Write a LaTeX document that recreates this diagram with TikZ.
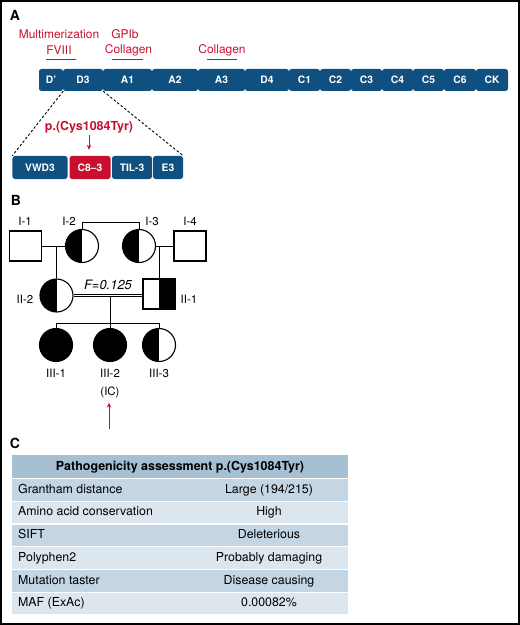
\documentclass[tikz,border=0pt]{standalone}
\usepackage{fontspec}
\setmainfont{TeX Gyre Heros}
\usetikzlibrary{calc,positioning,arrows.meta}
\definecolor{vwfblue}{RGB}{16,80,128}
\definecolor{vwfred}{RGB}{200,16,46}
\definecolor{hdrblue}{RGB}{165,191,211}
\definecolor{rowmid}{RGB}{196,213,227}
\definecolor{rowlight}{RGB}{220,230,239}
\newcommand{\myfs}[1]{\fontsize{#1}{#1}\selectfont}
\tikzset{
  dom/.style={rectangle,rounded corners=2.5bp,fill=vwfblue,text=white,font=\bfseries\myfs{10.3},minimum height=22bp,inner sep=0pt},
  func/.style={text=vwfred,font=\myfs{12},inner sep=0pt},
  male/.style={rectangle,draw,line width=1.1bp,minimum width=32bp,minimum height=30bp,inner sep=0pt},
  female/.style={circle,draw,line width=1.1bp,minimum size=33bp,inner sep=0pt},
  halfleft/.style={path picture={\fill (path picture bounding box.south west) rectangle (path picture bounding box.north);}},
  halfright/.style={path picture={\fill (path picture bounding box.south) rectangle (path picture bounding box.north east);}},
  pid/.style={font=\myfs{11.5},inner sep=0pt},
  panel/.style={font=\bfseries\myfs{14},inner sep=0pt},
  cell/.style={font=\myfs{12.4},inner sep=0pt,text height=9bp,text depth=2.5bp}
}
\begin{document}
\begin{tikzpicture}[x=1bp,y=-1bp]
\useasboundingbox (0,0) rectangle (520,625);
\draw[line width=1.5bp] (1,1) rectangle (519,624);
%
% panel A
\node[panel] (pA) at (15,15) {A};
\node[func] (mult) at (59,34) {Multimerization};
\node[func] (fviii) at (59,50) {FVIII};
\node[func] (gpib) at (125,34) {GPIb};
\node[func] (coll1) at (128.5,50) {Collagen};
\node[func] (coll2) at (222,50) {Collagen};
\draw[vwfred,line width=0.9bp] (46,59)--(76,59);
\draw[vwfred,line width=0.9bp] (112,59)--(143,59);
\draw[vwfred,line width=0.9bp] (207,59)--(237,59);
%
\foreach \nm/\lab/\xa/\xb in {Dp/D'/39/63, D3/D3/63/103, A1/A1/103/152, A2/A2/152/198, A3/A3/198/245, D4/D4/245/289, C1/C1/289/320, C2/C2/320/351, C3/C3/351/382, C4/C4/382/413, C5/C5/413/444, C6/C6/444/476, CK/CK/476/508}
  \node[dom,minimum width={(\xb-\xa)*1bp}] (d\nm) at ({(\xa+\xb)/2},80) {\lab};
%
\node[dom,minimum width=55bp,minimum height=23bp] (vwd) at (40,167.5) {VWD3};
\node[dom,minimum width=41bp,minimum height=23bp,fill=vwfred] (c83) at (90,167.5) {C8–3};
\node[dom,minimum width=40bp,minimum height=23bp] (til) at (132,167.5) {TIL-3};
\node[dom,minimum width=30bp,minimum height=23bp] (e3) at (168,167.5) {E3};
\draw[line width=0.9bp,dash pattern=on 2.5bp off 2bp] (dDp.south east)--(vwd.north west);
\draw[line width=0.9bp,dash pattern=on 2.5bp off 2bp] (dD3.south east)--(e3.north east);
%
\node[text=vwfred,font=\bfseries\myfs{12.5},inner sep=0pt] (mut) at (89,127) {p.(Cys1084Tyr)};
\draw[vwfred,line width=1bp,-{Stealth[length=5bp,width=4.5bp]},shorten <=2bp,shorten >=6bp] (mut.south)--(mut.south |- c83.north);
%
% panel B
\node[panel] (pB) at (16,200) {B};
\node[male] (i1) at (25.5,246) {};
\node[female,halfleft] (i2) at (82,246) {};
\node[female,halfleft] (i3) at (139,246) {};
\node[male] (i4) at (190,246) {};
\node[pid] (li1) at (25,221) {I-1};
\node[pid] (li2) at (69,221) {I-2};
\node[pid] (li3) at (152,221) {I-3};
\node[pid] (li4) at (190,221) {I-4};
\draw[line width=0.9bp] (i1)--(i2);
\draw[line width=0.9bp] (i3)--(i4);
\draw[line width=0.9bp] (i2.north)--++(0,-7)-|(i3.north);
%
\node[female,halfleft] (ii2) at (56.5,295.5) {};
\node[male,halfright] (ii1) at (159,294) {};
\node[pid] (lii2) at (25,299) {II-2};
\node[pid] (lii1) at (189,299) {II-1};
\draw[line width=0.9bp] (ii2.north)--(ii2.north |- i2.west);
\draw[line width=0.9bp] (ii1.north)--(ii1.north |- i3.east);
\draw[line width=0.8bp,double,double distance=1.6bp] (ii2.east)--(ii2.east -| ii1.west);
\node[font=\itshape\myfs{13},inner sep=0pt] (fco) at (108,285) {F=0.125};
%
\node[female,fill=black] (iii1) at (56,345) {};
\node[female,fill=black] (iii2) at (110,345) {};
\node[female,halfleft] (iii3) at (159,345) {};
\coordinate (sib) at (110,323);
\draw[line width=0.9bp] (iii2.north |- ii2.east)--(sib);
\draw[line width=0.9bp] (iii1.north)--(iii1.north |- sib)--(iii3.north |- sib)--(iii3.north);
\draw[line width=0.9bp] (iii2.north)--(iii2.north |- sib);
\node[pid] (liii1) at (56,373) {III-1};
\node[pid] (liii2) at (110,373) {III-2};
\node[pid] (liii3) at (159,373) {III-3};
\node[pid] (ic) at (110,392) {(IC)};
\coordinate (proband) at (109,429);
\draw[vwfred,line width=1bp,-{Stealth[length=5bp,width=4.5bp]},shorten >=5bp] (proband)--(proband |- ic.south);
%
% panel C
\node[panel] (pC) at (15,443) {C};
\fill[hdrblue] (12,455) rectangle (348,478);
\node[cell,font=\bfseries\myfs{12.5}] (hdr) at (180,467) {Pathogenicity assessment p.(Cys1084Tyr)};
\foreach \ka/\vb/\col [count=\i] in {Grantham distance/{Large (194/215)}/rowmid, Amino acid conservation/High/rowlight, SIFT/Deleterious/rowmid, Polyphen2/Probably damaging/rowlight, Mutation taster/Disease causing/rowmid, MAF (ExAc)/0.00082\%/rowlight}{
  \pgfmathsetmacro{\yt}{478+(\i-1)*22.7}
  \fill[\col] (12,{\yt+1.2}) rectangle (348,{\yt+22.7});
  \node[cell,anchor=west] (k\i) at (18,{\yt+12}) {\ka};
  \node[cell] (v\i) at (269,{\yt+12}) {\vb};
}
\end{tikzpicture}
\end{document}
